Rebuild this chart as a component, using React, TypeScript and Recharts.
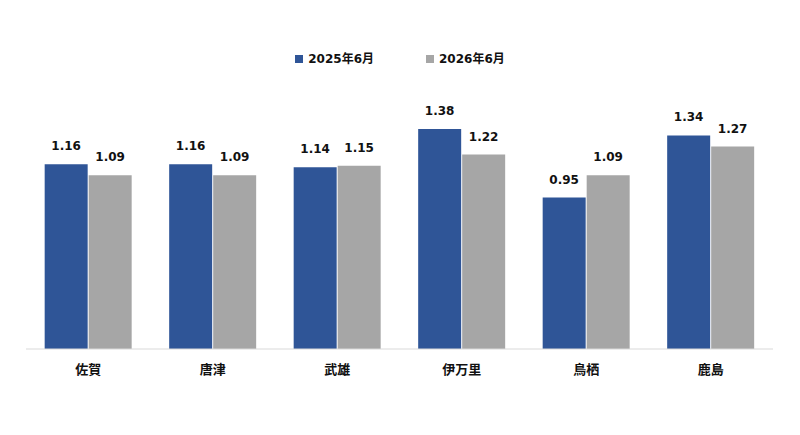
import React from 'react';
import { BarChart, Bar, XAxis, YAxis, Legend, LabelList } from 'recharts';

document.body.style.margin = '0';

const categories = ['佐賀', '唐津', '武雄', '伊万里', '鳥栖', '鹿島'];
const june2025 = [1.16, 1.16, 1.14, 1.38, 0.95, 1.34];
const june2026 = [1.09, 1.09, 1.15, 1.22, 1.09, 1.27];
const seriesNames = ['2025年6月', '2026年6月'];
const colors = ['#2F5597', '#A6A6A6'];

const data = categories.map((name, i) => ({ name, a: june2025[i], b: june2026[i] }));

const FONT = '"DejaVu Sans", "Noto Sans CJK JP", sans-serif';
const labelStyle = { fill: '#111', fontSize: 12, fontWeight: 700, fontFamily: FONT };

const renderLegend = () => (
  <div style={{ display: 'flex', justifyContent: 'center', fontFamily: FONT, fontWeight: 700, fontSize: 12, color: '#111', height: 18, lineHeight: '18px' }}>
    {seriesNames.map((s, i) => (
      <div key={s} style={{ display: 'flex', alignItems: 'center', marginRight: i === 0 ? 52 : 0 }}>
        <span style={{ width: 8, height: 8, background: colors[i], display: 'inline-block', marginRight: 5 }} />
        <span>{s}</span>
      </div>
    ))}
  </div>
);

export default function App() {
  return (
    <div style={{ width: 800, height: 435, background: '#fff' }}>
      <BarChart
        width={800}
        height={435}
        data={data}
        margin={{ top: 76, right: 27, bottom: 56, left: 26 }}
        barCategoryGap="15%"
        barGap={1}
      >
        <XAxis
          dataKey="name"
          tickLine={false}
          axisLine={{ stroke: '#D9D9D9' }}
          tickMargin={10}
          tick={{ fill: '#111', fontSize: 13, fontWeight: 700, fontFamily: '"Noto Sans CJK JP", sans-serif' }}
        />
        <YAxis hide domain={[0, 1.6]} />
        <Legend verticalAlign="top" content={renderLegend} wrapperStyle={{ top: 50, left: 0, width: 800 }} />
        <Bar dataKey="a" fill={colors[0]} isAnimationActive={false}>
          <LabelList dataKey="a" position="top" offset={14} formatter={(v: number) => v.toFixed(2)} style={labelStyle} />
        </Bar>
        <Bar dataKey="b" fill={colors[1]} isAnimationActive={false}>
          <LabelList dataKey="b" position="top" offset={14} formatter={(v: number) => v.toFixed(2)} style={labelStyle} />
        </Bar>
      </BarChart>
    </div>
  );
}
